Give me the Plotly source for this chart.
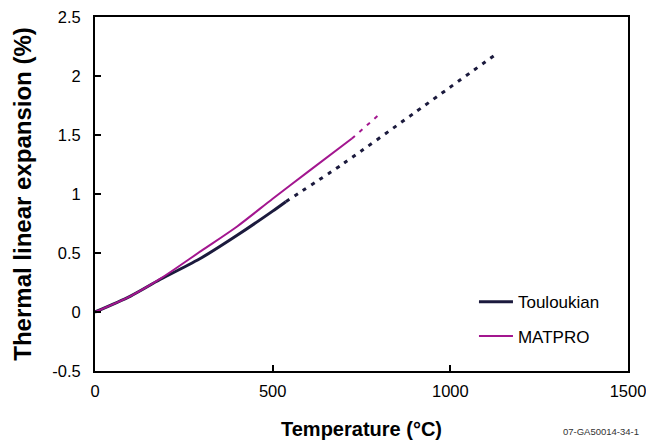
import plotly.graph_objects as go

# Data
touloukian_T = [0, 100, 183, 300, 400, 500, 537]
touloukian_val = [0.0, 0.135, 0.275, 0.46, 0.65, 0.855, 0.935]
touloukian_ext_T = [537, 700, 900, 1131]
touloukian_ext_val = [0.935, 1.26, 1.69, 2.19]

matpro_T = [0, 100, 183, 300, 400, 500, 600, 723]
matpro_val = [0.0, 0.135, 0.28, 0.52, 0.725, 0.96, 1.19, 1.47]
matpro_ext_T = [723, 802]
matpro_ext_val = [1.47, 1.68]

x_ticks = [0, 500, 1000, 1500]
y_ticks = [-0.5, 0, 0.5, 1, 1.5, 2, 2.5]
y_tick_text = ["-0.5", "0", "0.5", "1", "1.5", "2", "2.5"]

C_T = "#1b1a3d"
C_M = "#a3168f"

fig = go.Figure()
fig.add_trace(go.Scatter(x=touloukian_T, y=touloukian_val, mode="lines", name="Touloukian",
                         line=dict(color=C_T, width=3, shape="spline", smoothing=0.8), legendgroup="a"))
fig.add_trace(go.Scatter(x=touloukian_ext_T, y=touloukian_ext_val, mode="lines", showlegend=False,
                         line=dict(color=C_T, width=3, dash="4px,6px", shape="spline", smoothing=0.8),
                         legendgroup="a"))
fig.add_trace(go.Scatter(x=matpro_T, y=matpro_val, mode="lines", name="MATPRO",
                         line=dict(color=C_M, width=2, shape="spline", smoothing=0.8), legendgroup="b"))
fig.add_trace(go.Scatter(x=matpro_ext_T, y=matpro_ext_val, mode="lines", showlegend=False,
                         line=dict(color=C_M, width=2, dash="4px,6px"), legendgroup="b"))

font = "Liberation Sans, Arial, sans-serif"
fig.update_layout(
    width=646, height=437,
    margin=dict(l=87, r=26, t=9, b=74),
    paper_bgcolor="white", plot_bgcolor="white",
    font=dict(family=font, color="black"),
    showlegend=True,
    legend=dict(x=0.711, y=0.245, xanchor="left", yanchor="top",
                font=dict(size=17, color="black"), bgcolor="rgba(0,0,0,0)",
                traceorder="grouped", tracegroupgap=9, itemwidth=34),
    xaxis=dict(range=[0, 1500], tickvals=x_ticks, showgrid=False, zeroline=False,
               showline=True, linecolor="black", linewidth=2, mirror=True,
               ticks="inside", ticklen=6, tickwidth=2, tickcolor="black",
               tickfont=dict(size=16.5), automargin=False, ticklabelstandoff=4,
               ticklabeloverflow="allow",
               title=dict(text="<b>Temperature (°C)</b>", font=dict(size=20), standoff=23)),
    yaxis=dict(range=[-0.5, 2.5], tickvals=y_ticks, ticktext=y_tick_text, showgrid=False,
               zeroline=False, showline=True, linecolor="black", linewidth=2, mirror=True,
               ticks="inside", ticklen=6, tickwidth=2, tickcolor="black",
               tickfont=dict(size=16.5), automargin=False, ticklabelstandoff=9,
               ticklabeloverflow="allow",
               title=dict(text="<b>Thermal linear expansion (%)</b>", font=dict(size=24), standoff=14)),
    annotations=[dict(text="07-GA50014-34-1", x=1.024, y=-0.172, xref="paper", yref="paper",
                      xanchor="right", yanchor="middle", showarrow=False,
                      font=dict(size=9.5, color="#333333"))],
)

fig.write_html("out.html")
